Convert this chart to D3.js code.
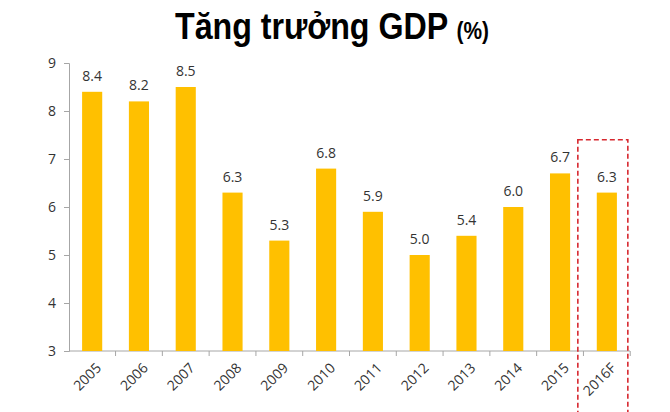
<!DOCTYPE html>
<html>
<head>
<meta charset="utf-8">
<script src="https://cdn.jsdelivr.net/npm/d3@7"></script>
<style>
  body { margin: 0; background: #fff; }
  .axis path, .axis line { stroke: #a6a6a6; }
  .axis text { fill: #333; font-family: "Open Sans", "DejaVu Sans", sans-serif; }
</style>
</head>
<body>
<div id="chart"></div>
<script>
const years = ['2005', '2006', '2007', '2008', '2009', '2010', '2011', '2012', '2013', '2014', '2015', '2016F'];
const growth = [8.4, 8.2, 8.5, 6.3, 5.3, 6.8, 5.9, 5.0, 5.4, 6.0, 6.7, 6.3];
const yTicks = [3, 4, 5, 6, 7, 8, 9];
const forecastYear = '2016F';

const data = years.map(function(y, i) { return { year: y, value: growth[i] }; });

const width = 670, height = 412;
const margin = { top: 63, right: 40, bottom: 61, left: 69 };

const svg = d3.select('#chart').append('svg')
  .attr('width', width)
  .attr('height', height);

// title, squeezed a bit to look like a narrow bold face
const title = svg.append('text')
  .attr('transform', 'translate(332,39) scale(0.87,1)')
  .attr('text-anchor', 'middle')
  .style('font-family', '"Liberation Sans", Arial, sans-serif')
  .style('font-weight', 'bold')
  .style('fill', '#000');
title.append('tspan').style('font-size', '37px').text('Tăng trưởng GDP ');
title.append('tspan').style('font-size', '24px').text('(%)');

const x = d3.scaleBand()
  .domain(years)
  .range([margin.left, width - margin.right])
  .paddingInner(0.57)
  .paddingOuter(0.28);

const y = d3.scaleLinear()
  .domain([3, 9])
  .range([height - margin.bottom, margin.top]);

// axes
svg.append('g')
  .attr('class', 'axis y')
  .attr('transform', 'translate(' + margin.left + ',0)')
  .call(d3.axisLeft(y).tickValues(yTicks).tickSize(5).tickPadding(8).tickFormat(d3.format('d')))
  .call(function(g) { g.selectAll('text').style('font-size', '14px'); });

// category boundary ticks on x axis
const xAxis = svg.append('g')
  .attr('class', 'axis x')
  .attr('transform', 'translate(0,' + y(3) + ')');
xAxis.append('line')
  .attr('x1', margin.left).attr('x2', width - margin.right)
  .attr('y1', 0).attr('y2', 0);
xAxis.selectAll('line.tick')
  .data(years)
  .enter().append('line')
  .attr('class', 'tick')
  .attr('x1', function(d) { return x(d) + x.bandwidth() / 2 + x.step() / 2; })
  .attr('x2', function(d) { return x(d) + x.bandwidth() / 2 + x.step() / 2; })
  .attr('y1', 0).attr('y2', 5);
xAxis.selectAll('text')
  .data(years)
  .enter().append('text')
  .attr('text-anchor', 'end')
  .attr('transform', function(d) {
    return 'translate(' + (x(d) + x.bandwidth() / 2 + 3) + ',11) rotate(-45)';
  })
  .attr('dy', '0.7em')
  .style('font-size', '14px')
  .text(function(d) { return d; });

// bars
svg.selectAll('.bar')
  .data(data)
  .enter().append('rect')
  .attr('class', 'bar')
  .attr('x', function(d) { return x(d.year); })
  .attr('y', function(d) { return y(d.value); })
  .attr('width', x.bandwidth())
  .attr('height', function(d) { return y(3) - y(d.value); })
  .attr('fill', '#ffc000');

// value labels
svg.selectAll('.label')
  .data(data)
  .enter().append('text')
  .attr('class', 'label')
  .attr('x', function(d) { return x(d.year) + x.bandwidth() / 2; })
  .attr('y', function(d) { return y(d.value) - 11; })
  .attr('text-anchor', 'middle')
  .style('font-family', '"Open Sans", "DejaVu Sans", sans-serif')
  .style('font-size', '14px')
  .style('fill', '#333')
  .text(function(d) { return d3.format('.1f')(d.value); });

// forecast highlight box
const fx = x(forecastYear) + x.bandwidth() / 2;
svg.append('rect')
  .attr('x', fx - 29)
  .attr('y', y(7.4))
  .attr('width', 50)
  .attr('height', height)
  .attr('fill', 'none')
  .attr('stroke', '#d7282f')
  .attr('stroke-width', 1.6)
  .attr('stroke-dasharray', '5,3');
</script>
</body>
</html>
